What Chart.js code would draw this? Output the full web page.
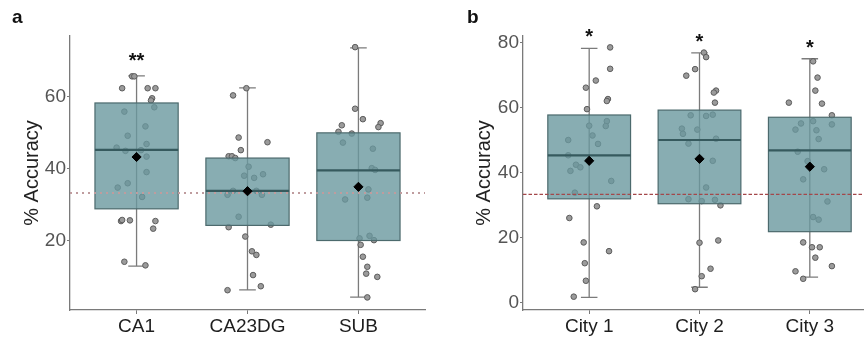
<!DOCTYPE html>
<html>
<head>
<meta charset="utf-8">
<script src="https://cdn.jsdelivr.net/npm/chart.js@4.4.1/dist/chart.umd.min.js"></script>
<style>
  html, body { margin: 0; padding: 0; background: #fff; overflow: hidden; }
  #wrap { position: relative; width: 864px; height: 339px; overflow: hidden; }
  canvas { position: absolute; top: 0; }
  #pa { left: 0; }
  #pb { left: 432px; }
</style>
</head>
<body>
<div id="wrap">
  <canvas id="pa" width="432" height="339"></canvas>
  <canvas id="pb" width="450" height="339"></canvas>
</div>
<script>
(function () {
  'use strict';

  // ---- panel a: hippocampal subfields ----
  const catsA = ['CA1', 'CA23DG', 'SUB'];
  const q1A = [28.9, 24.3, 20.1];
  const medA = [45.3, 33.9, 39.6];
  const q3A = [58.3, 43.0, 50.0];
  const loA = [13.0, 6.4, 4.4];
  const hiA = [65.8, 62.5, 73.6];
  const meanA = [43.3, 33.8, 35.0];
  const sigA = ['**', '', ''];
  const yTicksA = [20, 40, 60];

  const ca1Acc = [65.7, 65.7, 62.4, 62.4, 62.4, 59.6, 59.0, 57.1, 55.9, 51.8, 49.2, 45.9, 45.0, 45.2, 46.9, 43.4, 39.1, 36.0, 34.8, 32.2, 25.5, 25.8, 25.7, 25.5, 23.4, 14.2, 13.2];
  const ca1Jit = [-0.04, -0.02, -0.13, 0.10, 0.17, 0.14, 0.13, 0.16, -0.11, 0.08, -0.08, -0.18, -0.10, 0.04, 0.09, 0.09, 0.09, -0.08, -0.17, 0.05, -0.14, -0.13, -0.06, 0.17, 0.15, -0.11, 0.08];
  const ca23Acc = [62.4, 60.4, 48.7, 47.4, 45.2, 43.5, 43.5, 43.0, 40.6, 38.1, 37.5, 38.5, 33.9, 32.8, 33.9, 32.8, 26.7, 23.8, 24.5, 21.2, 17.1, 16.1, 10.5, 7.4, 6.3];
  const ca23Jit = [-0.01, -0.13, -0.08, 0.18, -0.06, -0.17, -0.14, -0.11, 0.01, -0.03, 0.06, 0.14, -0.13, -0.18, 0.08, 0.13, -0.08, -0.17, 0.21, -0.02, 0.04, 0.08, 0.05, 0.12, -0.18];
  const subAcc = [73.8, 56.7, 53.8, 52.1, 52.7, 51.6, 50.3, 49.8, 47.3, 45.6, 40.2, 39.7, 34.3, 32.0, 31.5, 21.4, 20.7, 20.2, 18.9, 15.6, 12.8, 10.9, 10.0, 4.3];
  const subJit = [-0.03, -0.03, 0.04, -0.15, 0.20, 0.18, -0.18, -0.06, -0.14, 0.13, 0.12, 0.15, 0.09, 0.08, -0.12, 0.10, 0.01, 0.14, 0.02, 0.04, 0.08, 0.07, 0.17, 0.08];

  // ---- panel b: cities ----
  const catsB = ['City 1', 'City 2', 'City 3'];
  const q1B = [31.9, 30.4, 21.8];
  const medB = [45.3, 50.0, 46.8];
  const q3B = [57.7, 59.2, 57.0];
  const loB = [1.6, 4.7, 7.8];
  const hiB = [78.2, 76.8, 75.0];
  const meanB = [43.6, 44.2, 41.8];
  const sigB = ['*', '*', '*'];
  const yTicksB = [0, 20, 40, 60, 80];

  const city1Acc = [78.5, 71.9, 68.3, 66.1, 62.6, 62.0, 59.5, 55.8, 54.3, 54.4, 51.4, 50.0, 48.8, 45.3, 42.4, 41.6, 40.5, 37.4, 33.8, 29.6, 26.0, 18.5, 15.8, 12.1, 6.7, 1.8];
  const city1Jit = [0.19, 0.19, 0.06, -0.03, 0.17, 0.16, -0.02, 0.16, 0.15, 0.00, 0.03, -0.19, 0.08, -0.19, -0.12, -0.08, -0.17, 0.20, -0.13, 0.07, -0.18, -0.05, 0.18, -0.04, -0.03, -0.14];
  const city2Acc = [76.9, 75.5, 71.8, 69.8, 65.2, 64.6, 61.5, 57.6, 57.4, 57.8, 53.2, 53.5, 51.9, 48.9, 50.4, 43.6, 35.4, 31.8, 31.2, 31.6, 29.9, 18.4, 19.1, 10.4, 8.1, 4.1];
  const city2Jit = [0.04, 0.06, -0.04, -0.12, 0.15, 0.13, 0.14, -0.08, 0.06, 0.12, -0.02, -0.16, -0.15, -0.10, 0.15, 0.12, 0.06, -0.10, 0.02, 0.14, 0.19, 0.00, 0.17, 0.10, 0.02, -0.04];
  const city3Acc = [74.2, 69.2, 65.2, 61.5, 61.2, 57.6, 55.1, 55.8, 54.8, 53.2, 53.0, 50.3, 46.4, 43.5, 41.0, 37.9, 31.1, 26.3, 25.5, 18.5, 17.0, 17.0, 13.8, 11.2, 9.6, 7.3];
  const city3Jit = [0.03, 0.07, 0.05, -0.19, 0.11, 0.20, -0.08, 0.03, 0.20, -0.13, 0.06, 0.08, -0.11, -0.02, 0.13, -0.06, 0.16, 0.03, 0.08, -0.06, 0.02, 0.09, 0.05, 0.20, -0.13, -0.06];

  const chance = 33.3;

  const FONT = '"Liberation Sans", Arial, Helvetica, sans-serif';
  const BOX_HALF = 0.375;
  const CAP_HALF = 0.075;

  const jitterPoints = (accs, jits) =>
    accs.flatMap((vals, i) => vals.map((v, j) => ({ x: i + 1 + jits[i][j], y: v })));

  function makeBoxPlugin(s) {
    return {
      id: 'boxes',
      beforeDatasetsDraw(chart) {
        const { ctx, scales: { x, y } } = chart;
        ctx.save();
        ctx.strokeStyle = '#7b7b7b';
        ctx.lineWidth = 1.3;
        s.lo.forEach((lo, i) => {
          const cx = x.getPixelForValue(i + 1);
          const hw = x.getPixelForValue(i + 1 + CAP_HALF) - cx;
          const yl = y.getPixelForValue(lo);
          const yh = y.getPixelForValue(s.hi[i]);
          ctx.beginPath();
          ctx.moveTo(cx, yl); ctx.lineTo(cx, yh);
          ctx.moveTo(cx - hw, yl); ctx.lineTo(cx + hw, yl);
          ctx.moveTo(cx - hw, yh); ctx.lineTo(cx + hw, yh);
          ctx.stroke();
        });
        ctx.restore();
      },
      // Chart.js draws the last dataset first: points (index 1) go down,
      // then the boxes, then the means (index 0) on top
      afterDatasetDraw(chart, args) {
        if (args.index !== 1) return;
        const { ctx, chartArea, scales: { x, y } } = chart;
        ctx.save();
        const cy = y.getPixelForValue(s.chance);
        s.q1.forEach((q1, i) => {
          const l = x.getPixelForValue(i + 1 - BOX_HALF);
          const r = x.getPixelForValue(i + 1 + BOX_HALF);
          const t = y.getPixelForValue(s.q3[i]);
          const b = y.getPixelForValue(q1);
          ctx.fillStyle = 'rgba(106,153,159,0.8)';
          ctx.fillRect(l, t, r - l, b - t);
          ctx.strokeStyle = '#4c6a6d';
          ctx.lineWidth = 1.2;
          ctx.strokeRect(l, t, r - l, b - t);
        });
        ctx.strokeStyle = s.lineColor;
        ctx.lineWidth = s.lineWidth;
        ctx.setLineDash(s.dash);
        ctx.beginPath();
        ctx.moveTo(chartArea.left, cy); ctx.lineTo(chartArea.right, cy);
        ctx.stroke();
        ctx.setLineDash([]);
        s.med.forEach((med, i) => {
          const l = x.getPixelForValue(i + 1 - BOX_HALF);
          const r = x.getPixelForValue(i + 1 + BOX_HALF);
          const m = y.getPixelForValue(med);
          ctx.strokeStyle = '#365a5e';
          ctx.lineWidth = 2.2;
          ctx.beginPath();
          ctx.moveTo(l, m); ctx.lineTo(r, m);
          ctx.stroke();
        });
        ctx.restore();
      },
      afterDraw(chart) {
        const { ctx, scales: { x, y } } = chart;
        ctx.save();
        ctx.fillStyle = '#111';
        ctx.textAlign = 'center';
        ctx.textBaseline = 'alphabetic';
        ctx.font = 'bold 20px ' + FONT;
        s.sig.forEach((t, i) => {
          if (!t) return;
          ctx.fillText(t, x.getPixelForValue(i + 1), y.getPixelForValue(s.hi[i]) - s.sigGap);
        });
        ctx.textAlign = 'left';
        ctx.font = 'bold 19px ' + FONT;
        ctx.fillText(s.tag, s.tagX, 23);
        ctx.restore();
      }
    };
  }

  function makePanel(id, p) {
    new Chart(document.getElementById(id), {
      type: 'scatter',
      data: {
        datasets: [
          {
            data: p.mean.map((m, i) => ({ x: i + 1, y: m })),
            pointStyle: 'rectRot',
            pointRadius: 4.6,
            pointHoverRadius: 4.6,
            backgroundColor: '#000',
            borderColor: '#000',
            borderWidth: 1
          },
          {
            data: jitterPoints(p.accs, p.jits),
            pointRadius: 2.8,
            pointHoverRadius: 2.8,
            backgroundColor: '#9b9b9b',
            borderColor: '#5c5c5c',
            borderWidth: 1
          }
        ]
      },
      options: {
        responsive: false,
        animation: false,
        layout: { padding: { left: 0, top: 36, right: p.padRight, bottom: 0 } },
        plugins: { legend: { display: false }, tooltip: { enabled: false } },
        scales: {
          x: {
            type: 'linear',
            min: 0.4,
            max: 3.6,
            afterBuildTicks: (sc) => { sc.ticks = p.cats.map((c, i) => ({ value: i + 1 })); },
            afterFit: (sc) => { sc.height = 29; },
            ticks: {
              autoSkip: false,
              maxRotation: 0,
              padding: 1,
              color: '#1e1e1e',
              font: { family: FONT, size: 19 },
              callback: (v) => p.cats[Math.round(v) - 1]
            },
            grid: { drawOnChartArea: false, drawTicks: true, tickLength: 4, color: '#7a7a7a' },
            border: { color: '#7a7a7a', width: 1.3 }
          },
          y: {
            min: p.yMin,
            max: p.yMax,
            afterBuildTicks: (sc) => { sc.ticks = p.yTicks.map(v => ({ value: v })); },
            afterFit: (sc) => { sc.width = p.yWidth; },
            ticks: {
              autoSkip: false,
              padding: 1,
              color: '#555',
              font: { family: FONT, size: 19 }
            },
            grid: { drawOnChartArea: false, drawTicks: true, tickLength: 3, color: '#7a7a7a' },
            border: { color: '#7a7a7a', width: 1.3 },
            title: {
              display: true,
              text: '% Accuracy',
              color: '#222',
              padding: { top: p.titlePad, bottom: 0 },
              font: { family: FONT, size: 20 }
            }
          }
        }
      },
      plugins: [makeBoxPlugin(p)]
    });
  }

  makePanel('pa', {
    cats: catsA, q1: q1A, med: medA, q3: q3A, lo: loA, hi: hiA, mean: meanA, sig: sigA,
    accs: [ca1Acc, ca23Acc, subAcc], jits: [ca1Jit, ca23Jit, subJit],
    yTicks: yTicksA, yMin: 0.8, yMax: 76.9, chance: chance,
    lineColor: '#bf9c9e', lineWidth: 2.2, dash: [2, 4],
    tag: 'a', tagX: 12, yWidth: 70, padRight: 7, titlePad: 20, sigGap: 9
  });

  makePanel('pb', {
    cats: catsB, q1: q1B, med: medB, q3: q3B, lo: loB, hi: hiB, mean: meanB, sig: sigB,
    accs: [city1Acc, city2Acc, city3Acc], jits: [city1Jit, city2Jit, city3Jit],
    yTicks: yTicksB, yMin: -2.3, yMax: 82.0, chance: chance,
    lineColor: '#a4474a', lineWidth: 1.2, dash: [3.5, 2],
    tag: 'b', tagX: 35, yWidth: 91, padRight: 6, titlePad: 40, sigGap: 5
  });
})();
</script>
</body>
</html>
